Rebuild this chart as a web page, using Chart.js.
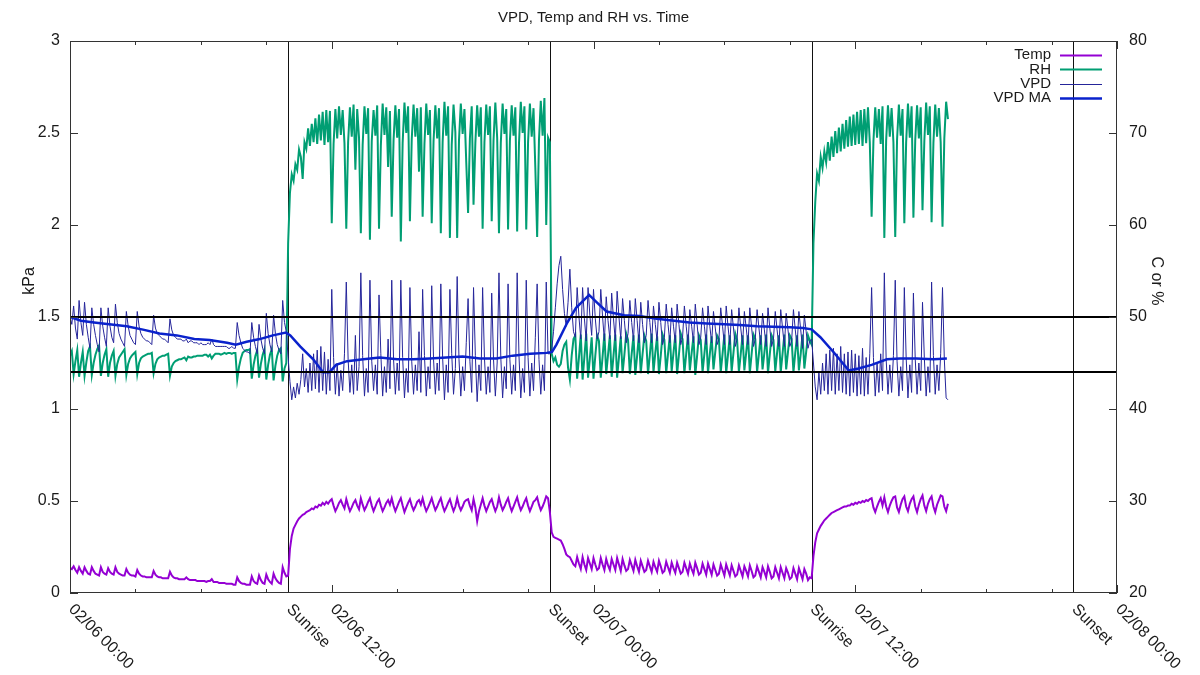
<!DOCTYPE html>
<html><head><meta charset="utf-8">
<script src="https://cdn.jsdelivr.net/npm/chart.js@4/dist/chart.umd.min.js"></script>
<style>html,body{margin:0;padding:0;background:#fff;}canvas{display:block;}</style>
</head><body>
<canvas id="c" width="1200" height="675"></canvas>
<script>
// sample interval (hours) from 02/06 00:00
const STEP_H = 5 / 60;

// VPD (kPa), one row per hour
const vpd = [
1.50,1.46,1.56,1.44,1.38,1.59,1.47,1.40,1.58,1.46,1.39,1.33,
1.55,1.46,1.40,1.35,1.31,1.55,1.45,1.39,1.34,1.55,1.45,1.39,
1.36,1.57,1.47,1.41,1.38,1.36,1.34,1.53,1.45,1.40,1.38,1.36,
1.35,1.53,1.45,1.41,1.39,1.38,1.37,1.37,1.36,1.35,1.51,1.44,
1.41,1.40,1.39,1.38,1.38,1.37,1.36,1.49,1.43,1.40,1.39,1.38,
1.38,1.38,1.37,1.37,1.38,1.36,1.37,1.37,1.36,1.36,1.36,1.35,
1.36,1.35,1.35,1.35,1.36,1.35,1.38,1.35,1.34,1.34,1.34,1.34,
1.34,1.34,1.34,1.33,1.33,1.34,1.33,1.33,1.47,1.40,1.36,1.33,
1.32,1.31,1.31,1.30,1.47,1.39,1.34,1.30,1.46,1.38,1.33,1.30,
1.52,1.41,1.35,1.31,1.51,1.41,1.35,1.32,1.30,1.59,1.47,1.42,
1.28,1.15,1.05,1.12,1.06,1.14,1.08,1.16,1.30,1.12,1.22,1.09,
1.25,1.10,1.30,1.11,1.32,1.09,1.34,1.10,1.31,1.08,1.27,1.10,
1.65,1.28,1.08,1.25,1.07,1.21,1.10,1.30,1.69,1.27,1.09,1.24,
1.08,1.40,1.10,1.23,1.74,1.29,1.07,1.22,1.09,1.70,1.26,1.10,
1.24,1.08,1.62,1.30,1.07,1.23,1.09,1.38,1.11,1.70,1.27,1.08,
1.25,1.10,1.70,1.28,1.06,1.22,1.09,1.66,1.26,1.08,1.24,1.10,
1.42,1.09,1.65,1.29,1.07,1.23,1.11,1.67,1.27,1.08,1.25,1.10,
1.68,1.28,1.05,1.24,1.09,1.65,1.30,1.08,1.22,1.72,1.27,1.07,
1.23,1.10,1.36,1.60,1.26,1.09,1.66,1.29,1.04,1.24,1.10,1.66,
1.28,1.08,1.23,1.09,1.63,1.27,1.07,1.25,1.74,1.28,1.06,1.23,
1.11,1.68,1.27,1.08,1.24,1.10,1.74,1.29,1.06,1.22,1.09,1.70,
1.28,1.07,1.25,1.10,1.39,1.68,1.27,1.08,1.24,1.10,1.69,1.30,
1.30,1.32,1.42,1.55,1.68,1.78,1.83,1.65,1.52,1.45,1.58,1.76,
1.55,1.42,1.39,1.66,1.50,1.38,1.66,1.49,1.37,1.66,1.51,1.40,
1.65,1.49,1.38,1.42,1.65,1.50,1.37,1.61,1.48,1.38,1.63,1.49,
1.37,1.64,1.50,1.38,1.60,1.48,1.36,1.41,1.59,1.47,1.37,1.60,
1.48,1.36,1.58,1.46,1.36,1.40,1.59,1.47,1.36,1.56,1.46,1.37,
1.58,1.47,1.35,1.39,1.57,1.46,1.36,1.55,1.45,1.36,1.57,1.46,
1.35,1.39,1.56,1.45,1.35,1.54,1.45,1.36,1.57,1.46,1.35,1.39,
1.55,1.45,1.35,1.56,1.45,1.36,1.53,1.44,1.35,1.38,1.55,1.45,
1.35,1.56,1.45,1.35,1.54,1.44,1.34,1.38,1.55,1.44,1.35,1.53,
1.44,1.35,1.55,1.44,1.34,1.38,1.54,1.44,1.35,1.52,1.43,1.34,
1.55,1.44,1.34,1.38,1.53,1.43,1.34,1.54,1.44,1.34,1.52,1.43,
1.34,1.37,1.54,1.43,1.34,1.53,1.43,1.33,1.51,1.42,1.33,1.37,
1.38,1.25,1.12,1.05,1.20,1.08,1.25,1.10,1.30,1.08,1.32,1.10,
1.33,1.08,1.30,1.10,1.34,1.09,1.30,1.08,1.31,1.07,1.32,1.09,
1.30,1.07,1.29,1.08,1.33,1.07,1.28,1.08,1.30,1.66,1.28,1.07,
1.25,1.09,1.30,1.10,1.74,1.27,1.08,1.24,1.09,1.29,1.70,1.26,
1.07,1.23,1.10,1.66,1.28,1.06,1.24,1.09,1.63,1.27,1.08,1.25,
1.10,1.58,1.28,1.07,1.23,1.09,1.69,1.29,1.08,1.24,1.10,1.30,
1.66,1.27,1.06,1.05
];

// RH (%), one row per hour
const rh = [
45.8,46.3,43.8,45.2,46.4,43.5,45.0,46.2,43.6,45.1,46.3,46.8,
43.7,45.0,45.9,46.5,46.9,43.6,45.0,45.9,46.5,43.5,45.0,45.8,
46.3,43.6,44.9,45.6,45.9,46.2,46.5,43.7,44.9,45.5,45.8,46.0,
46.2,43.8,45.0,45.5,45.7,45.8,45.9,46.0,46.0,46.1,43.9,44.9,
45.4,45.6,45.7,45.8,45.8,45.9,46.0,43.6,44.6,45.0,45.2,45.3,
45.4,45.4,45.5,45.6,45.3,45.7,45.6,45.6,45.7,45.7,45.8,45.8,
45.8,45.8,45.9,45.9,45.7,45.9,45.5,45.8,46.0,46.0,46.0,45.9,
46.0,46.1,46.0,46.1,46.1,46.0,46.1,46.1,43.2,44.6,45.5,46.1,
46.3,46.4,46.4,46.5,43.3,44.8,45.8,46.4,43.4,44.9,45.9,46.5,
43.2,44.8,45.9,46.5,43.1,44.7,45.8,46.4,46.6,43.0,44.4,45.0,
58.0,63.5,65.5,64.8,66.6,66.0,68.2,67.4,65.0,69.0,68.3,70.5,
68.6,71.0,69.0,71.6,68.8,72.0,69.2,72.3,68.7,72.5,69.0,72.4,
60.2,68.8,72.6,69.4,72.9,69.8,72.5,68.9,59.6,69.0,72.8,69.6,
73.1,66.0,72.6,69.5,59.1,68.7,72.9,69.9,72.7,58.4,69.1,72.5,
69.7,73.0,59.6,68.6,73.2,69.8,72.8,66.3,72.4,60.9,69.2,73.0,
69.5,72.6,58.2,68.9,73.3,70.0,72.9,60.4,69.3,73.1,69.6,72.7,
65.8,72.8,60.9,68.8,73.2,69.8,72.5,60.2,69.1,73.0,69.4,72.7,
59.1,69.0,73.4,69.7,72.9,58.6,68.7,73.1,70.1,58.6,69.2,73.2,
69.9,72.6,66.8,61.3,69.4,72.9,62.2,68.9,73.0,69.6,72.8,59.6,
69.0,73.1,69.8,72.9,60.4,69.2,73.3,69.5,59.1,68.9,73.2,69.9,
72.6,59.5,69.1,73.0,69.7,72.8,59.3,68.8,73.4,70.0,72.9,59.5,
69.0,73.2,69.6,72.7,66.2,58.7,69.2,73.5,69.7,73.8,60.0,69.5,
69.0,46.0,45.2,45.6,44.8,44.6,44.9,46.3,47.0,47.3,44.5,43.2,
45.8,47.6,48.0,43.3,45.6,48.1,43.2,45.7,48.2,43.4,45.5,47.8,
43.3,45.8,48.0,47.4,43.4,45.7,48.2,43.8,45.9,48.0,43.5,45.8,
48.1,43.4,45.6,47.9,43.9,45.9,48.2,47.5,43.8,46.0,48.0,43.7,
45.8,48.1,43.9,46.0,48.0,47.4,43.8,45.9,48.2,44.0,46.1,47.9,
43.8,45.8,48.1,47.5,43.9,46.0,48.0,44.1,46.1,48.0,43.8,45.9,
48.2,47.6,43.9,46.0,48.1,44.2,46.1,47.9,43.7,45.8,48.0,47.5,
44.0,46.0,48.1,43.9,46.0,47.9,44.3,46.2,48.0,47.6,44.0,46.0,
48.1,43.9,45.9,48.0,44.1,46.1,48.2,47.5,44.0,46.0,48.0,44.2,
46.1,48.0,43.9,46.0,48.1,47.6,44.0,46.0,48.0,44.3,46.1,48.1,
43.9,46.0,48.0,47.5,44.1,46.1,48.0,44.0,46.0,48.1,44.3,46.2,
48.0,47.6,44.0,46.1,48.0,44.2,46.0,48.1,44.4,46.2,48.0,47.4,
47.0,58.0,62.5,65.6,64.8,67.4,66.2,68.0,66.8,69.0,67.0,69.6,
67.4,70.2,67.8,70.6,68.0,71.0,68.3,71.4,68.5,71.8,68.6,72.0,
68.7,72.3,68.8,72.5,68.6,72.6,68.9,72.8,69.0,60.9,69.1,72.8,
69.5,72.6,68.8,72.9,58.6,69.2,73.0,69.6,72.7,69.0,58.7,69.3,
73.1,69.7,72.6,60.2,69.0,73.2,69.5,72.9,60.8,69.2,73.0,69.4,
72.8,61.6,69.1,73.3,69.8,72.9,60.3,68.9,73.1,69.6,72.7,69.0,
59.8,69.4,73.4,71.5
];

// Temperature (C), one row per hour
const temp = [
22.7,22.6,22.9,22.5,22.2,22.8,22.4,22.1,22.8,22.4,22.1,22.0,
22.8,22.4,22.1,22.0,21.9,22.8,22.3,22.1,22.0,22.7,22.3,22.1,
22.0,22.8,22.3,22.1,22.0,21.9,21.9,22.6,22.2,22.0,21.9,21.9,
21.8,22.5,22.1,21.9,21.8,21.8,21.7,21.7,21.7,21.7,22.4,22.0,
21.8,21.7,21.7,21.6,21.6,21.6,21.6,22.3,21.9,21.7,21.6,21.6,
21.5,21.5,21.5,21.5,21.7,21.5,21.4,21.4,21.4,21.4,21.3,21.3,
21.3,21.3,21.3,21.2,21.3,21.3,21.5,21.2,21.2,21.2,21.1,21.1,
21.1,21.1,21.0,21.0,21.0,21.0,20.9,20.9,21.7,21.3,21.1,21.0,
21.0,20.9,20.9,20.9,21.8,21.3,21.1,21.0,21.9,21.4,21.1,21.0,
22.0,21.5,21.2,21.0,22.1,21.6,21.3,21.1,21.0,22.8,22.2,21.8,
21.9,24.8,26.2,27.0,27.4,27.8,28.1,28.3,28.5,28.6,28.8,28.9,
29.0,29.2,29.1,29.4,29.3,29.6,29.5,29.8,29.6,29.9,29.7,30.0,
30.2,29.5,28.9,29.3,29.8,30.1,29.6,29.2,30.2,29.5,28.9,29.3,
29.8,30.1,29.5,29.1,30.3,29.6,29.0,29.4,29.9,30.3,29.5,28.9,
29.4,29.9,30.2,29.5,28.9,29.3,29.8,30.1,29.6,30.3,29.5,28.9,
29.4,29.9,30.3,29.5,28.8,29.3,29.8,30.2,29.5,29.0,29.4,29.9,
30.1,29.6,30.3,29.5,28.9,29.3,29.8,30.3,29.6,29.0,29.4,29.9,
30.3,29.5,28.9,29.3,29.8,30.2,29.5,28.9,29.4,30.3,29.5,29.0,
29.4,29.9,30.1,30.2,29.5,29.0,30.2,29.3,27.8,28.9,29.6,30.3,
29.5,28.9,29.4,29.9,30.2,29.5,28.9,29.4,30.4,29.6,29.0,29.4,
29.9,30.3,29.5,28.9,29.4,29.9,30.4,29.6,29.0,29.4,29.9,30.3,
29.5,28.9,29.4,29.9,30.1,30.4,29.6,29.0,29.4,29.9,30.5,30.3,
28.8,26.6,26.1,26.0,25.9,25.8,25.7,25.3,24.8,24.2,24.0,23.9,
23.5,23.1,22.9,23.9,23.2,22.6,23.9,23.1,22.5,23.8,23.2,22.6,
23.8,23.1,22.5,22.7,23.8,23.1,22.5,23.7,23.0,22.5,23.7,23.1,
22.5,23.8,23.1,22.4,23.7,23.0,22.4,22.6,23.6,23.0,22.4,23.6,
22.9,22.3,23.5,22.9,22.3,22.5,23.5,22.9,22.3,23.4,22.8,22.3,
23.5,22.9,22.2,22.4,23.4,22.8,22.2,23.3,22.7,22.2,23.3,22.7,
22.1,22.3,23.3,22.7,22.1,23.2,22.6,22.1,23.3,22.7,22.0,22.2,
23.2,22.6,22.0,23.2,22.6,22.0,23.1,22.5,21.9,22.1,23.1,22.5,
21.9,23.1,22.5,21.9,23.0,22.4,21.8,22.0,23.0,22.4,21.8,22.9,
22.4,21.8,23.0,22.4,21.7,21.9,22.9,22.3,21.7,22.8,22.3,21.7,
22.9,22.3,21.6,21.8,22.8,22.2,21.6,22.8,22.2,21.6,22.7,22.2,
21.5,21.7,22.7,22.1,21.5,22.7,22.1,21.5,22.6,22.1,21.4,21.7,
21.6,24.0,25.5,26.5,26.9,27.3,27.6,27.9,28.1,28.3,28.5,28.7,
28.8,28.9,29.0,29.1,29.2,29.3,29.4,29.4,29.5,29.5,29.7,29.6,
29.8,29.7,29.9,29.8,30.0,29.9,30.1,30.0,30.2,30.3,29.3,28.8,
29.4,29.9,30.3,29.5,30.4,29.4,28.8,29.5,30.0,30.4,30.5,29.3,
28.8,29.6,30.2,30.5,29.4,28.9,29.7,30.2,30.5,29.4,28.8,29.6,
30.2,30.6,29.5,28.9,29.7,30.2,30.5,29.4,28.8,29.6,30.1,30.6,
30.5,29.4,28.9,29.7
];

// VPD moving average, read at these hours
const maHours = [0,0.5,1.1,1.8,2.6,3.4,4.1,4.9,5.7,6.4,7.2,7.6,8.1,8.7,9.3,9.9,10.1,10.55,11.15,11.6,11.9,12.2,12.7,13.45,14.2,15.0,15.75,16.5,17.25,18.0,18.8,19.55,20.3,21.1,21.85,22.1,22.3,22.8,23.2,23.8,24.15,24.6,25.4,26.1,26.9,27.7,28.4,29.2,30.0,30.7,31.5,32.25,33.0,33.6,34.0,34.4,35.0,35.7,36.15,36.75,37.45,38.05,38.8,39.6,40.2];
const maValues = [1.50,1.48,1.47,1.46,1.45,1.43,1.41,1.40,1.38,1.375,1.36,1.35,1.365,1.38,1.40,1.415,1.40,1.34,1.27,1.20,1.20,1.24,1.26,1.27,1.28,1.27,1.27,1.275,1.28,1.285,1.275,1.275,1.29,1.30,1.305,1.31,1.35,1.47,1.55,1.62,1.58,1.53,1.51,1.505,1.49,1.48,1.47,1.465,1.46,1.457,1.45,1.447,1.444,1.44,1.433,1.39,1.31,1.21,1.22,1.24,1.27,1.275,1.275,1.27,1.275];

// axis ticks / annotations
const dateTicks = [[0,'02/06 00:00'],[12,'02/06 12:00'],[24,'02/07 00:00'],[36,'02/07 12:00'],[48,'02/08 00:00']];
const sunEvents = [[10,'Sunrise'],[22,'Sunset'],[34,'Sunrise'],[46,'Sunset']];
const minorHours = [3,6,9,15,18,21,27,30,33,39,42,45];
const vpdLimits = [1.5, 1.2];
const seriesNames = ['Temp','RH','VPD','VPD MA'];

const FONT = '"Liberation Sans", Arial, sans-serif';
const TXT = '#1a1a1a';

const series = arr => arr.map((v, i) => ({x: i * STEP_H, y: v}));
const fmt = v => String(Math.round(v * 10) / 10);

const decor = {
  id: 'decor',
  beforeDatasetsDraw(chart) {
    const {ctx, chartArea: a, scales: {x}} = chart;
    ctx.save();
    ctx.strokeStyle = '#111'; ctx.lineWidth = 1;
    sunEvents.forEach(([h]) => {
      const px = Math.round(x.getPixelForValue(h)) + 0.5;
      ctx.beginPath(); ctx.moveTo(px, a.top); ctx.lineTo(px, a.bottom); ctx.stroke();
    });
    ctx.restore();
  },
  afterDatasetsDraw(chart) {
    const {ctx, chartArea: a, scales: {x, y, y2}} = chart;
    ctx.save();
    // limit lines
    ctx.strokeStyle = '#000'; ctx.lineWidth = 2;
    vpdLimits.forEach(v => {
      const py = Math.round(y.getPixelForValue(v));
      ctx.beginPath(); ctx.moveTo(a.left, py); ctx.lineTo(a.right, py); ctx.stroke();
    });
    // frame
    ctx.strokeStyle = '#333'; ctx.lineWidth = 1;
    ctx.strokeRect(Math.round(a.left) + 0.5, Math.round(a.top) + 0.5, Math.round(a.right - a.left) - 1, Math.round(a.bottom - a.top) - 1);
    // x ticks (bottom and top, inward)
    const tick = (h, len) => {
      const px = Math.round(x.getPixelForValue(h)) + 0.5;
      ctx.beginPath();
      ctx.moveTo(px, a.bottom); ctx.lineTo(px, a.bottom - len);
      ctx.moveTo(px, a.top); ctx.lineTo(px, a.top + len);
      ctx.stroke();
    };
    dateTicks.forEach(([h]) => tick(h, 8));
    minorHours.forEach(h => tick(h, 4));
    // y ticks
    y.ticks.forEach(t => {
      const py = Math.round(y.getPixelForValue(t.value)) + 0.5;
      ctx.beginPath(); ctx.moveTo(a.left, py); ctx.lineTo(a.left + 8, py); ctx.stroke();
    });
    y2.ticks.forEach(t => {
      const py = Math.round(y2.getPixelForValue(t.value)) + 0.5;
      ctx.beginPath(); ctx.moveTo(a.right, py); ctx.lineTo(a.right - 8, py); ctx.stroke();
    });
    // x labels, rotated
    ctx.fillStyle = TXT;
    ctx.font = '16px ' + FONT;
    ctx.textAlign = 'left'; ctx.textBaseline = 'middle';
    [...dateTicks, ...sunEvents].forEach(([h, label]) => {
      const px = x.getPixelForValue(h);
      ctx.save(); ctx.translate(px + 1, a.bottom + 14); ctx.rotate(Math.PI / 4);
      ctx.fillText(label, 0, 0); ctx.restore();
    });
    // title
    ctx.textAlign = 'center'; ctx.textBaseline = 'middle';
    ctx.font = '15px ' + FONT;
    ctx.fillText('VPD, Temp and RH vs. Time', (a.left + a.right) / 2, 18);
    // axis titles
    ctx.font = '16px ' + FONT;
    ctx.save(); ctx.translate(30, 281); ctx.rotate(-Math.PI / 2); ctx.fillText('kPa', 0, 0); ctx.restore();
    ctx.save(); ctx.translate(1156, 281); ctx.rotate(Math.PI / 2); ctx.fillText('C or %', 0, 0); ctx.restore();
    // legend
    ctx.font = '15px ' + FONT;
    ctx.textAlign = 'right';
    chart.data.datasets.forEach((ds, i) => {
      const ly = 55 + i * 14.4;
      ctx.fillStyle = TXT;
      ctx.fillText(seriesNames[i], 1051, ly);
      ctx.strokeStyle = ds.borderColor; ctx.lineWidth = ds.borderWidth;
      ctx.beginPath(); ctx.moveTo(1060, Math.round(ly) + 0.5); ctx.lineTo(1102, Math.round(ly) + 0.5); ctx.stroke();
    });
    ctx.restore();
  }
};

new Chart(document.getElementById('c'), {
  type: 'line',
  data: {
    datasets: [
      {label: seriesNames[0], data: series(temp), yAxisID: 'y2', borderColor: '#9400d3', borderWidth: 2, order: 4},
      {label: seriesNames[1], data: series(rh), yAxisID: 'y2', borderColor: '#009e73', borderWidth: 2, order: 3},
      {label: seriesNames[2], data: series(vpd), yAxisID: 'y', borderColor: '#25259a', borderWidth: 1, order: 2},
      {label: seriesNames[3], data: maHours.map((h, i) => ({x: h, y: maValues[i]})), yAxisID: 'y', borderColor: '#0a22cc', borderWidth: 2.5, order: 1}
    ]
  },
  options: {
    responsive: false, animation: false, devicePixelRatio: 1, events: [],
    elements: {point: {radius: 0}, line: {tension: 0, fill: false}},
    layout: {padding: {top: 41, left: 0, right: 0, bottom: 0}},
    plugins: {legend: {display: false}, tooltip: {enabled: false}, title: {display: false}},
    scales: {
      x: {type: 'linear', min: 0, max: 48, position: 'bottom',
          grid: {display: false}, border: {display: false}, ticks: {display: false},
          afterFit(s) { s.height = 82; }},
      y: {type: 'linear', position: 'left', min: 0, max: 3,
          ticks: {stepSize: 0.5, padding: 10, color: TXT, font: {family: FONT, size: 16}, callback: fmt},
          grid: {display: false, drawTicks: false}, border: {display: false},
          afterFit(s) { s.width = 70; }},
      y2: {type: 'linear', position: 'right', min: 20, max: 80,
          ticks: {stepSize: 10, padding: 12, color: TXT, font: {family: FONT, size: 16}, callback: fmt},
          grid: {display: false, drawTicks: false}, border: {display: false},
          afterFit(s) { s.width = 83; }}
    }
  },
  plugins: [decor]
});
</script>
</body></html>
